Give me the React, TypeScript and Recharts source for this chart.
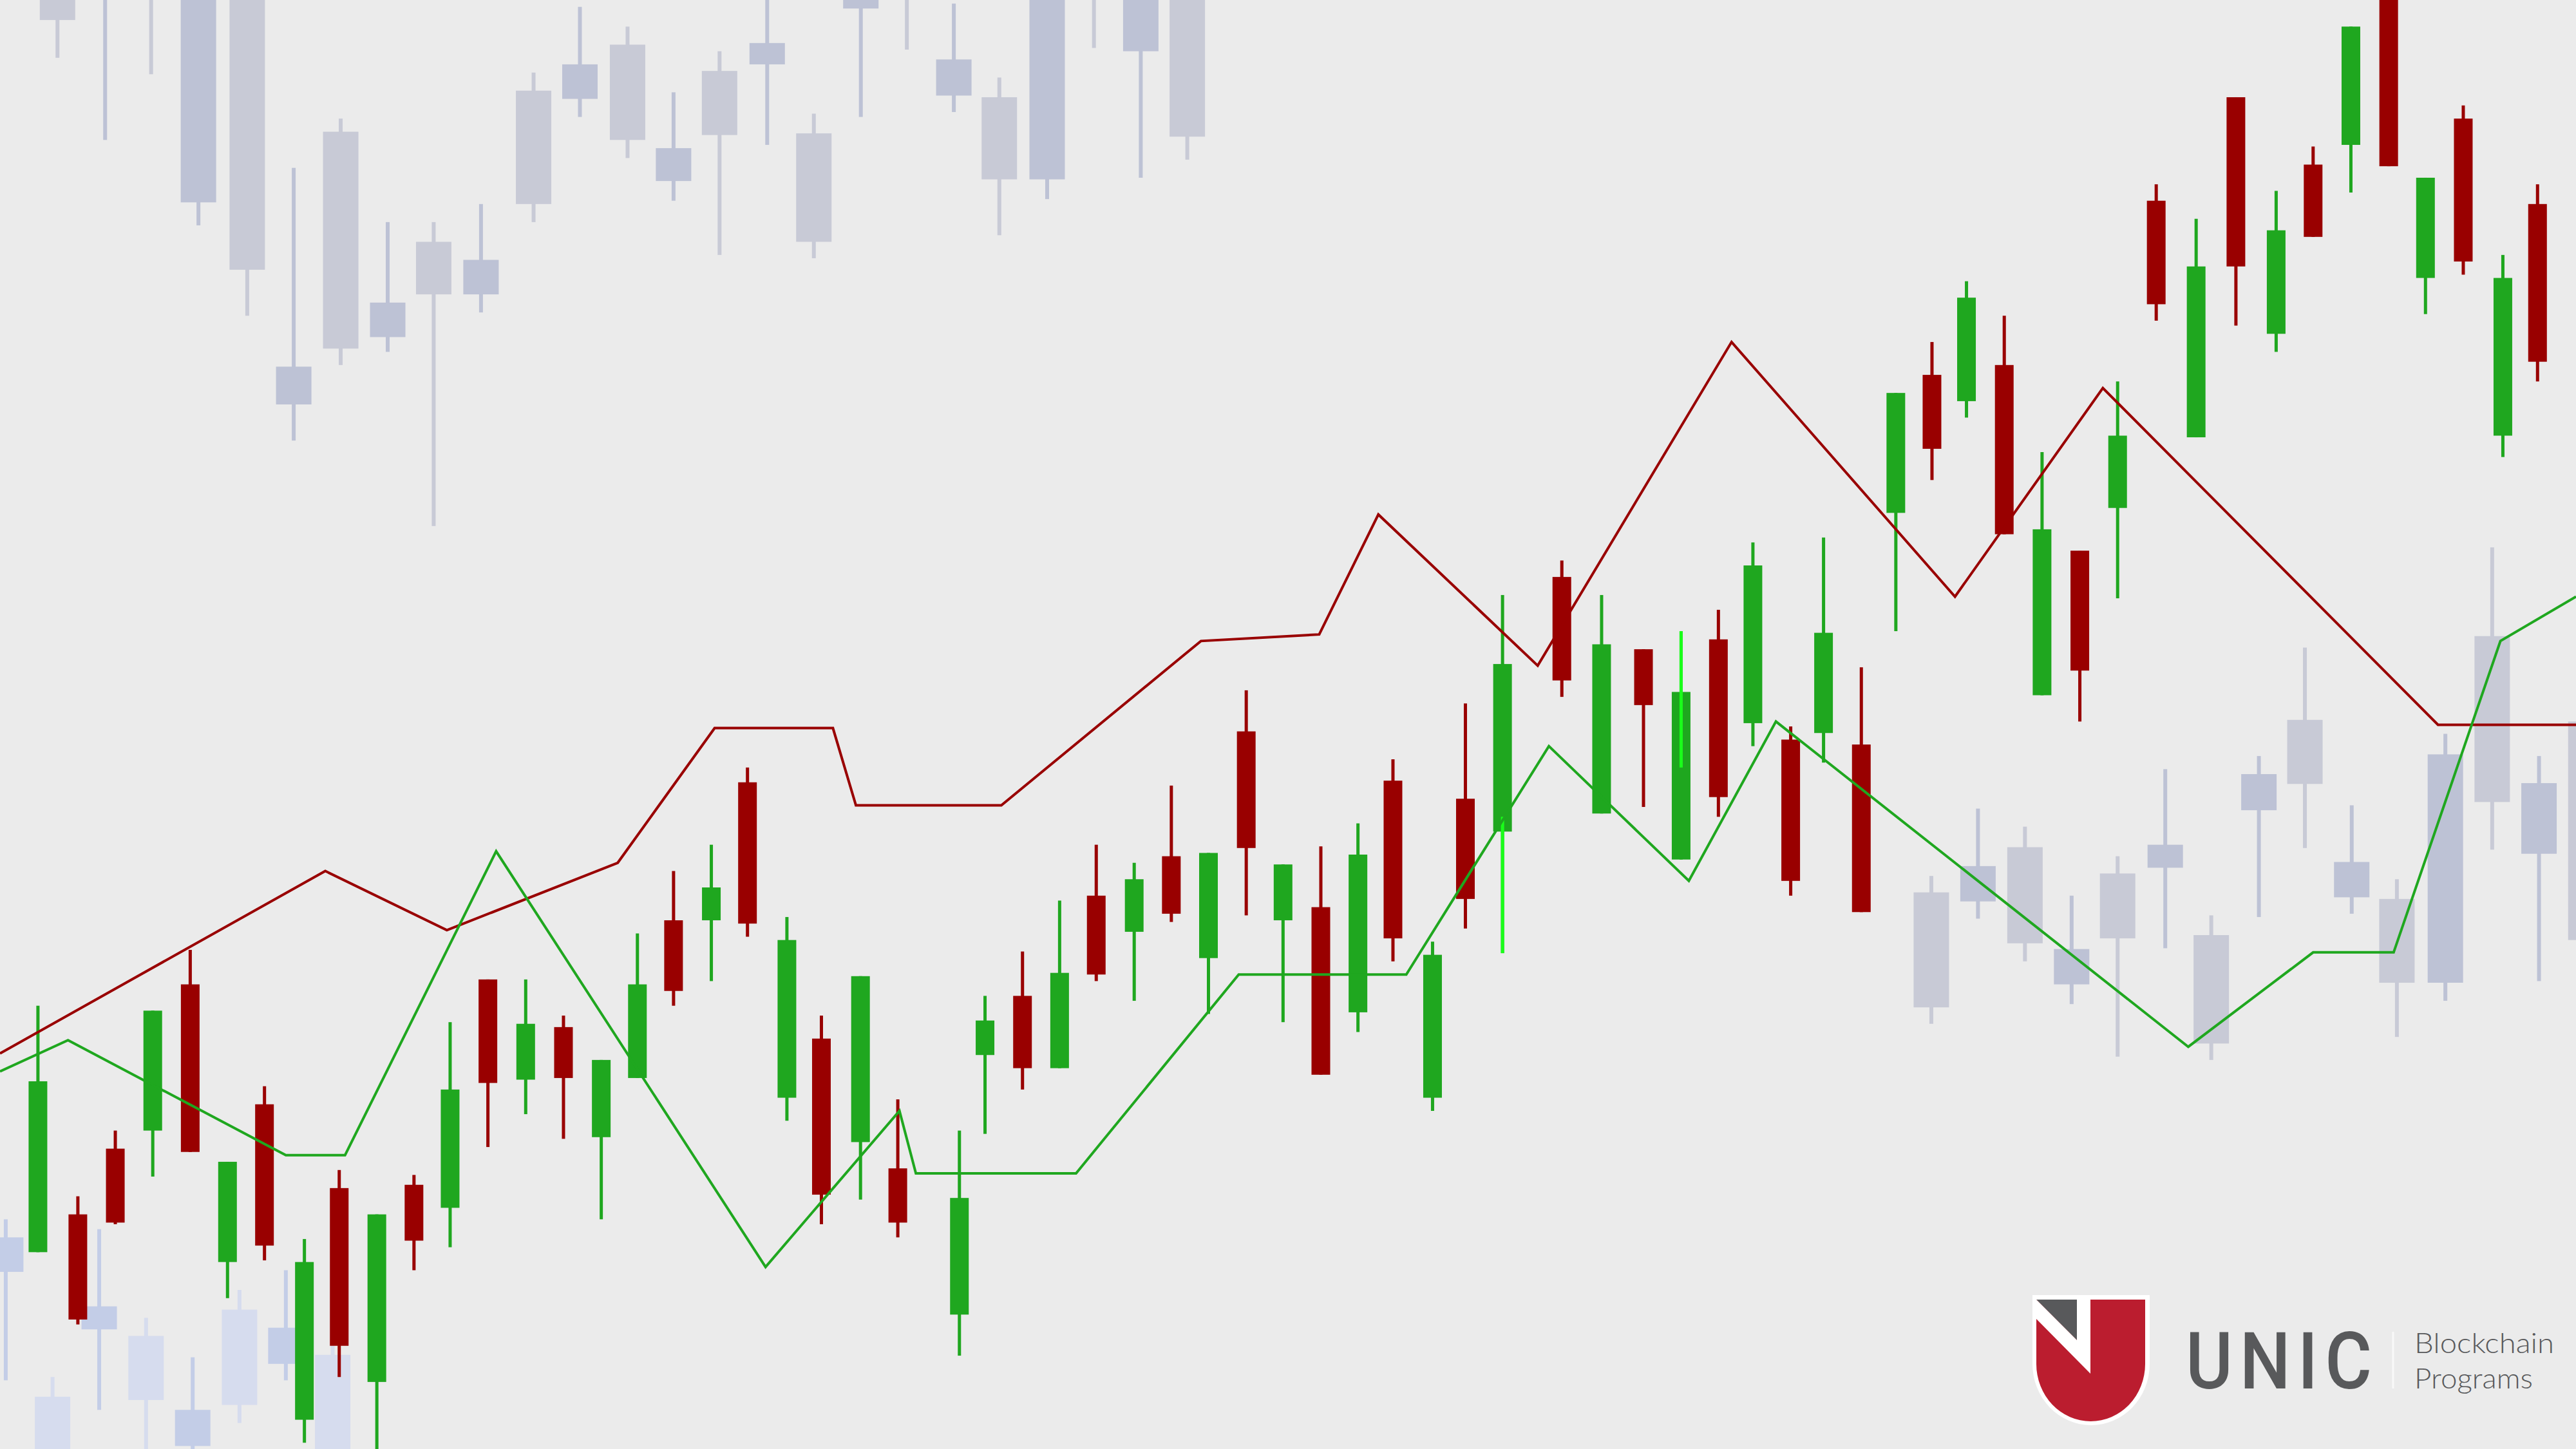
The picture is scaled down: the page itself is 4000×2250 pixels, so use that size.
import { ComposedChart, Bar, Line, XAxis, YAxis } from 'recharts'

// [x, open, high, low, close]
type Candle = [number, number, number, number, number]

const mainCandles: Candle[] = [
  [23.1, 120, 270, 120, 224],
  [47.4, 143, 154, 76, 79],
  [70.2, 183, 194, 137, 138],
  [93, 194, 267, 166, 267],
  [115.8, 283, 304, 181, 181],
  [138.5, 114, 175, 92, 175],
  [161, 210, 221, 115, 124],
  [185.3, 18, 128, 4, 114],
  [206.5, 159, 170, 44, 63],
  [229.4, 41, 143, -10, 143],
  [252, 161, 167, 109, 127],
  [274, 147, 260, 123, 219],
  [297, 286, 286, 184, 223],
  [320, 225, 286, 204, 259],
  [343, 257, 264, 189, 226],
  [366, 190, 237, 140, 237],
  [388, 226, 314, 226, 283],
  [410, 322, 352, 270, 279],
  [433, 322, 368, 285, 342],
  [455, 406, 415, 312, 320],
  [479, 214, 324, 200, 310],
  [500, 250, 264, 137, 155],
  [523.8, 187, 288, 152, 288],
  [546.5, 171, 213, 129, 138],
  [584, 82, 194, 57, 153],
  [599.6, 240, 276, 192, 261],
  [622.4, 276, 303, 219, 232],
  [645, 232, 334, 232, 290],
  [667.3, 337, 368, 285, 289],
  [690.4, 315, 357, 273, 347],
  [713, 361, 404, 321, 326],
  [735.6, 299, 363, 265, 363],
  [758.6, 437, 462, 325, 366],
  [781, 322, 356, 260, 356],
  [804, 330, 367, 228, 228],
  [826.6, 266, 381, 254, 362],
  [847.9, 407, 420, 297, 311],
  [872, 214, 309, 206, 301],
  [892, 396, 454, 317, 335],
  [914.6, 376, 520, 302, 478],
  [950.7, 531, 541, 458, 468],
  [974.9, 387, 520, 387, 490],
  [1000.4, 487, 487, 391, 453],
  [1023.3, 359, 498, 359, 461],
  [1046, 493, 511, 385, 397],
  [1067, 442, 552, 428, 538],
  [1090, 432, 440, 337, 346],
  [1110, 436, 555, 418, 497],
  [1133, 429, 476, 327, 327],
  [1154, 570, 643, 498, 643],
  [1176, 654, 674, 590, 609],
  [1197, 638, 711, 628, 701],
  [1220, 660, 690, 557, 557],
  [1243, 459, 607, 459, 560],
  [1266, 547, 547, 443, 474],
  [1289, 573, 650, 518, 617],
  [1312.5, 760, 770, 687, 697],
  [1336.8, 616, 749, 616, 720],
  [1361, 823, 823, 684, 720],
  [1385.5, 679, 766, 668, 742],
  [1408, 782, 793, 738, 738],
  [1431, 794, 866, 765, 866],
  [1454, 900, 900, 781, 781],
  [1476.4, 713, 774, 691, 774],
  [1499.4, 810, 818, 715, 723],
  [1523.5, 617, 727, 604, 713],
  [1544.6, 758, 770, 650, 662],
]

// bright green wick overlays: [x, top, bottom]
const accentWicks: [number, number, number][] = [
  [914.6, 385, 302],
  [1023.3, 498, 415],
]

const ghostTopLeft: Candle[] = [
  [35, 900, 900, 847, 870],
  [64, 905, 940, 797, 930],
  [92, 930, 940, 837, 905],
  [120.8, 759, 900, 745, 900],
  [150.5, 900, 900, 690, 718],
  [178.8, 636, 780, 614, 659],
  [207.4, 802, 810, 660, 670],
  [236, 677, 747, 668, 698],
  [264, 735, 747, 562, 703],
  [292.8, 703, 758, 692, 724],
  [324.8, 827, 838, 747, 758],
  [353, 822, 878, 811, 843],
  [382, 855, 866, 786, 797],
  [410, 772, 826, 760, 792],
  [438, 839, 851, 727, 800],
  [467, 843, 890, 794, 856],
  [495.4, 801, 813, 725, 735],
  [524, 877, 900, 811, 900],
  [552, 930, 940, 852, 905],
  [580.6, 824, 880, 814, 846],
  [608.3, 823, 835, 739, 773],
  [637.4, 773, 900, 761, 900],
  [665.9, 930, 940, 853, 905],
  [694.4, 851, 900, 774, 900],
  [722.7, 900, 900, 785, 799],
]

const ghostRight: Candle[] = [
  [1175.6, 339, 349, 259, 269],
  [1204, 333.5, 390, 323, 355],
  [1232.6, 366.5, 379, 297, 308],
  [1261, 283, 337, 271, 304.5],
  [1289, 350.5, 361, 239, 311],
  [1318, 354, 414, 305, 368],
  [1346, 313, 325, 237, 247],
  [1375, 389, 422, 324, 411],
  [1403, 444, 488, 366, 405],
  [1431.5, 336, 392, 326, 357.5],
  [1459, 335, 347, 251, 284],
  [1488.5, 284, 435.5, 273, 423],
  [1517, 495, 549, 365, 394],
  [1545.5, 362.5, 422, 285, 405.5],
  [1574, 443, 443, 310, 310],
]

const paleBottomLeft: Candle[] = [
  [3.5, 108, 140, 42, 129],
  [32, 32, 44, -20, -10],
  [60.4, 73, 134, 24, 87],
  [88.9, 69, 80, -20, 30],
  [117.3, 2, 56, -20, 24],
  [145.8, 85, 97, 16, 27],
  [174, 52, 109, 42, 74],
  [202.5, 57.5, 63, -20, -10],
]

const redLine: [number, number][] = [
  [0, 241], [198, 352], [272, 316], [376, 357], [435, 439], [507, 439],
  [521, 392], [609.5, 392], [731, 492], [803, 496], [839, 569], [936, 477],
  [1054, 674], [1190, 519], [1280, 646], [1484, 441], [1568, 441],
]

const greenLine: [number, number][] = [
  [0, 230], [41.4, 249], [174, 179], [210, 179], [302, 364], [466, 111],
  [547.5, 206], [557.5, 168], [655, 168], [754, 289], [856, 289], [942.8, 428],
  [1028, 346], [1081, 443], [1332, 245], [1408, 302.5], [1457, 302.5],
  [1522, 492], [1568, 519],
]

type Tone = 'main' | 'ghost' | 'pale'
interface Ohlc { open: number; high: number; low: number; close: number; tone: Tone; accent?: [number, number] }
interface Row { x: number; bg?: Ohlc; fg?: Ohlc; red?: number; green?: number }

const rowMap = new Map<number, Row>()
const rowAt = (x: number) => {
  let r = rowMap.get(x)
  if (!r) { r = { x }; rowMap.set(x, r) }
  return r
}
const toOhlc = ([, open, high, low, close]: Candle, tone: Tone): Ohlc => ({ open, high, low, close, tone })

mainCandles.forEach((c) => { rowAt(c[0]).fg = toOhlc(c, 'main') })
accentWicks.forEach(([x, top, bottom]) => {
  const r = rowAt(x)
  if (r.fg) r.fg.accent = [top, bottom]
})
ghostTopLeft.forEach((c) => { rowAt(c[0]).bg = toOhlc(c, 'ghost') })
ghostRight.forEach((c) => { rowAt(c[0]).bg = toOhlc(c, 'ghost') })
paleBottomLeft.forEach((c) => { rowAt(c[0]).bg = toOhlc(c, 'pale') })
redLine.forEach(([x, v]) => { rowAt(x).red = v })
greenLine.forEach(([x, v]) => { rowAt(x).green = v })

const chartData = [...rowMap.values()].sort((a, b) => a.x - b.x)

const COLORS: Record<Tone, { up: string; down: string }> = {
  main: { up: '#1fa71f', down: '#990000' },
  ghost: { up: '#bdc2d5', down: '#c8cad6' },
  pale: { up: '#c3cde7', down: '#d6dcee' },
}
const ACCENT = '#1aff1a'

// shrunk-pixel units -> screen pixels
const UNIT = 4000 / 1568
const X_DOMAIN: [number, number] = [0, 1600]
const Y_DOMAIN: [number, number] = [-50, 950]
const VISIBLE_TOP = 882

function renderCandle(props: any, slot: 'bg' | 'fg') {
  const { x, y, width, height } = props
  const row: Row = props.payload ?? props
  const c = row?.[slot]
  if (!c || !Number.isFinite(y) || !Number.isFinite(height) || c.high === c.low) return <g />
  const cx = x + width / 2
  const top = Math.min(y, y + height)
  const k = Math.abs(height) / (c.high - c.low)
  const py = (v: number) => top + (c.high - v) * k
  const up = c.close >= c.open
  const fill = up ? COLORS[c.tone].up : COLORS[c.tone].down
  const bodyW = c.tone === 'main' ? 29 : 55
  const wickW = c.tone === 'main' ? 5 : 6
  const bTop = py(Math.max(c.open, c.close))
  const bBot = py(Math.min(c.open, c.close))
  return (
    <g>
      <rect x={cx - wickW / 2} y={py(c.high)} width={wickW} height={py(c.low) - py(c.high)} fill={fill} />
      <rect x={cx - bodyW / 2} y={bTop} width={bodyW} height={Math.max(bBot - bTop, 1)} fill={fill} />
      {c.accent && (
        <rect x={cx - 2.5} y={py(c.accent[0])} width={5} height={py(c.accent[1]) - py(c.accent[0])} fill={ACCENT} />
      )}
    </g>
  )
}

function UnicLogo() {
  return (
    <svg width={4000} height={2250} style={{ position: 'absolute', left: 0, top: 0 }}>
      <path d="M3156 2011 H3338 V2118 A91 95 0 0 1 3156 2118 Z" fill="#ffffff" />
      <path d="M3162 2018 H3331 V2118 A84.5 89 0 0 1 3162 2118 Z" fill="#bb1d2f" />
      <path d="M3162 2018 H3225 V2081 Z" fill="#58595b" />
      <path d="M3162 2018 L3225 2081 V2018 H3246 V2133 L3162 2048 Z" fill="#ffffff" />
      <text x={3394} y={2156} fontSize={122} fontFamily="Roboto, 'Open Sans', sans-serif" fontWeight={500}
        letterSpacing={12} fill="#58595b" textLength={300} lengthAdjust="spacingAndGlyphs">UNIC</text>
      <line x1={3716} x2={3716} y1={2068} y2={2156} stroke="#f8f8f8" strokeWidth={3} />
      <text x={3749} y={2101} fontSize={44} fontFamily="Lato, 'Open Sans', sans-serif" fontWeight={300}
        fill="#58595b" textLength={217} lengthAdjust="spacingAndGlyphs">Blockchain</text>
      <text x={3749} y={2156} fontSize={44} fontFamily="Lato, 'Open Sans', sans-serif" fontWeight={300}
        fill="#58595b" textLength={184} lengthAdjust="spacingAndGlyphs">Programs</text>
    </svg>
  )
}

export default function App() {
  const chartW = (X_DOMAIN[1] - X_DOMAIN[0]) * UNIT
  const chartH = (Y_DOMAIN[1] - Y_DOMAIN[0]) * UNIT
  const offsetTop = -(Y_DOMAIN[1] - VISIBLE_TOP) * UNIT
  return (
    <div style={{ position: 'absolute', left: 0, top: 0, width: 4000, height: 2250, overflow: 'hidden', background: '#ebebeb' }}>
      <div style={{ position: 'absolute', left: 0, top: offsetTop }}>
        <ComposedChart width={chartW} height={chartH} data={chartData} margin={{ top: 0, right: 0, bottom: 0, left: 0 }}>
          <XAxis xAxisId="bg" type="number" dataKey="x" domain={X_DOMAIN} allowDataOverflow hide />
          <XAxis xAxisId="fg" type="number" dataKey="x" domain={X_DOMAIN} allowDataOverflow hide />
          <YAxis type="number" domain={Y_DOMAIN} allowDataOverflow hide />
          <Bar
            xAxisId="bg"
            dataKey={(r: Row) => (r.bg ? [r.bg.low, r.bg.high] : null)}
            barSize={55}
            shape={(p: any) => renderCandle(p, 'bg')}
            isAnimationActive={false}
          />
          <Bar
            xAxisId="fg"
            dataKey={(r: Row) => (r.fg ? [r.fg.low, r.fg.high] : null)}
            barSize={29}
            shape={(p: any) => renderCandle(p, 'fg')}
            isAnimationActive={false}
          />
          <Line xAxisId="fg" type="linear" dataKey="red" stroke="#990000" strokeWidth={4} dot={false}
            activeDot={false} connectNulls isAnimationActive={false} />
          <Line xAxisId="fg" type="linear" dataKey="green" stroke="#1fa71f" strokeWidth={4} dot={false}
            activeDot={false} connectNulls isAnimationActive={false} />
        </ComposedChart>
      </div>
      <UnicLogo />
    </div>
  )
}
